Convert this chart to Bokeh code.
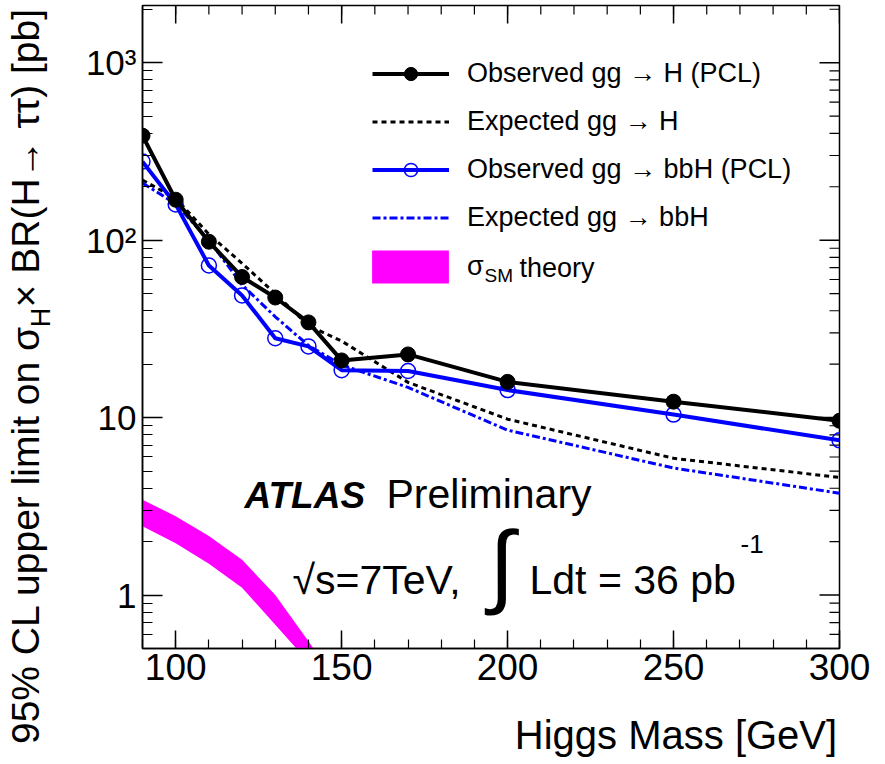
import math
from bokeh.plotting import figure
from bokeh.models import (ColumnDataSource, FixedTicker, Range1d, Label, Legend, LegendItem, LogAxis)
from bokeh.embed import file_html
from bokeh.resources import INLINE

# ---------------- data ----------------
mass = [90, 100, 110, 120, 130, 140, 150, 170, 200, 250, 300]
obs_ggH = [388, 169, 98, 62, 47.5, 34.4, 21.0, 22.7, 15.9, 12.3, 9.6]
exp_ggH = [218, 172, 108, 74, 50, 33, 27, 15.8, 9.8, 5.9, 4.6]
obs_bbH = [277, 159, 72, 48.8, 28, 25.2, 18.5, 18.3, 14.3, 10.4, 7.45]
exp_bbH = [210, 160, 100, 56, 37, 25.5, 19.8, 14.8, 8.5, 5.2, 3.75]

sm_mass = [90, 100, 110, 120, 130, 140, 145]
sm_hi = [3.45, 2.78, 2.15, 1.58, 1.00, 0.55, 0.40]
sm_lo = [2.44, 1.96, 1.50, 1.10, 0.68, 0.42, 0.29]

X_MIN, X_MAX = 90, 300
Y_MIN, Y_MAX = 0.5, 2100
x_major = [100, 150, 200, 250, 300]
x_minor = list(range(90, 301, 10))
y_major = [1, 10, 100, 1000]
y_minor = [m * 10 ** e for e in (-1, 0, 1, 2, 3) for m in range(2, 10) if Y_MIN <= m * 10 ** e <= Y_MAX] + [0.5]
y_labels = {1: "1", 10: "10", 100: "10²", 1000: "10³"}

EN = "\u2002"   # en space, used to position axis titles along their axes
THIN = "\u2009"
x_title = EN * 18 + "\u2005" + "Higgs Mass [GeV]"
y_title_main = "95% CL upper limit on σ" + EN + "× BR(H→ ττ) [pb]" + " " * 9
y_title_sub = EN + THIN + "H"

FONT = "Liberation Sans"
BLUE = "#0000ff"
MAGENTA = "#ff00ff"

p = figure(width=885, height=764, x_range=Range1d(X_MIN, X_MAX), y_range=Range1d(Y_MIN, Y_MAX),
           y_axis_type="log", output_backend="svg", toolbar_location=None,
           min_border_left=140, min_border_right=46, min_border_top=5, min_border_bottom=116)
p.grid.visible = False
p.outline_line_color = "black"
p.outline_line_width = 1.5
p.background_fill_color = "white"
p.border_fill_color = "white"

# main axes
xa = p.xaxis[0]
xa.ticker = FixedTicker(ticks=x_major, minor_ticks=x_minor)
xa.major_tick_in = 18
xa.major_tick_out = 0
xa.minor_tick_in = 9
xa.minor_tick_out = 0
xa.major_label_text_font = FONT
xa.major_label_text_font_size = "37px"
xa.major_label_standoff = 5
xa.axis_label = x_title
xa.axis_label_text_font = FONT
xa.axis_label_text_font_size = "40px"
xa.axis_label_text_font_style = "normal"
xa.axis_label_standoff = 30

ya = p.yaxis[0]
ya.ticker = FixedTicker(ticks=y_major, minor_ticks=y_minor)
ya.major_label_overrides = y_labels
ya.major_tick_in = 20
ya.major_tick_out = 0
ya.minor_tick_in = 10
ya.minor_tick_out = 0
ya.major_label_text_font = FONT
ya.major_label_text_font_size = "35px"
ya.major_label_standoff = 6
ya.axis_label = y_title_sub
ya.axis_label_text_font = FONT
ya.axis_label_text_font_size = "27px"
ya.axis_label_text_font_style = "normal"
ya.axis_label_standoff = 27

for ax in (xa, ya):
    ax.axis_line_width = 1.5
    ax.major_tick_line_width = 1.5
    ax.minor_tick_line_width = 1.2
    ax.major_label_text_color = "black"
    ax.axis_label_text_color = "black"

# second (empty) left axis that only carries the main part of the y title
ya2 = LogAxis(ticker=FixedTicker(ticks=[]), axis_line_color=None, major_tick_line_color=None,
              minor_tick_line_color=None, major_tick_out=0, minor_tick_out=0,
              major_label_standoff=0, axis_label=y_title_main, axis_label_text_font=FONT,
              axis_label_text_font_size="39px", axis_label_text_font_style="normal",
              axis_label_text_color="black", axis_label_standoff=-24)
p.add_layout(ya2, "left")

# mirrored ticks on the top and right frame edges (screen-length rays from the tick values)
p.ray(x=x_major, y=[Y_MAX] * len(x_major), length=18, length_units="screen",
      angle=-math.pi / 2, line_color="black", line_width=1.5)
p.ray(x=x_minor, y=[Y_MAX] * len(x_minor), length=9, length_units="screen",
      angle=-math.pi / 2, line_color="black", line_width=1.2)
p.ray(x=[X_MAX] * len(y_major), y=y_major, length=20, length_units="screen",
      angle=math.pi, line_color="black", line_width=1.5)
p.ray(x=[X_MAX] * len(y_minor), y=y_minor, length=10, length_units="screen",
      angle=math.pi, line_color="black", line_width=1.2)

# ---------------- glyphs ----------------
src = ColumnDataSource(dict(m=mass, oh=obs_ggH, eh=exp_ggH, ob=obs_bbH, eb=exp_bbH))
band_src = ColumnDataSource(dict(m=sm_mass, hi=sm_hi, lo=sm_lo))

band = p.varea(x="m", y1="lo", y2="hi", source=band_src, fill_color=MAGENTA)
l_eh = p.line("m", "eh", source=src, line_color="black", line_width=3, line_dash="5 4")
l_eb = p.line("m", "eb", source=src, line_color=BLUE, line_width=3, line_dash="8 3 3 3")
l_ob = p.line("m", "ob", source=src, line_color=BLUE, line_width=4)
s_ob = p.scatter("m", "ob", source=src, marker="circle", size=15, fill_color=None,
                 line_color=BLUE, line_width=1.5)
l_oh = p.line("m", "oh", source=src, line_color="black", line_width=4)
s_oh = p.scatter("m", "oh", source=src, marker="circle", size=15, fill_color="black",
                 line_color="black")

leg_style = dict(orientation="vertical", padding=0, margin=0, label_text_font=FONT,
                 label_text_font_size="27px", label_text_color="black",
                 border_line_color=None, background_fill_alpha=0)
legend = Legend(items=[
    LegendItem(label="Observed gg → H (PCL)", renderers=[l_oh, s_oh]),
    LegendItem(label="Expected gg → H", renderers=[l_eh]),
    LegendItem(label="Observed gg → bbH (PCL)", renderers=[l_ob, s_ob]),
    LegendItem(label="Expected gg → bbH", renderers=[l_eb]),
], location=(230, 414), glyph_width=77, glyph_height=33, label_standoff=18, spacing=15,
    **leg_style)
p.add_layout(legend)
legend2 = Legend(items=[LegendItem(label="σ", renderers=[band])],
                 location=(220, 361), glyph_width=96, glyph_height=41, label_standoff=9,
                 **leg_style)
p.add_layout(legend2)

# ---------------- texts inside the frame ----------------
FL, FB = 140, 648


def lab(text, cx, cy, size, **kw):
    # cy is the bottom of the text box (baseline + descent)
    kw.setdefault("text_font", FONT)
    p.add_layout(Label(x=cx - FL, y=FB - cy, x_units="screen", y_units="screen", text=text,
                       text_font_size=f"{size}px", text_color="black", **kw))


# legend subscript pieces
lab("SM", 482, 285, 19)
lab("theory", 517, 282, 27)

# ATLAS labels
lab("ATLAS", 242, 515, 37, text_font_style="bold italic")
lab("Preliminary", 384, 516, 41)
lab("√s=7TeV,", 290, 602, 41)
lab("∫", 499, 614, 92, text_align="center")
lab("Ldt = 36 pb", 527, 602, 41)
lab("-1", 738, 552, 26)

open("out.html", "w").write(file_html(p, INLINE))
